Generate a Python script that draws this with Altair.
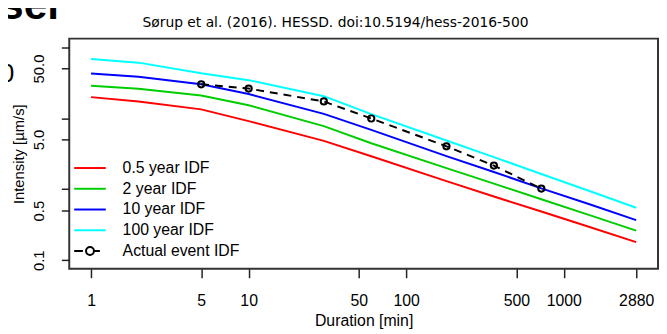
import altair as alt
import pandas as pd

# ---- data ----
durations = [1, 2, 5, 10, 30, 60, 180, 360, 720, 1440, 2880]
idf_05 = [19.8, 17.2, 13.3, 9.09, 4.80, 2.91, 1.30, 0.79, 0.486, 0.297, 0.18]
idf_2 = [28.7, 25.9, 20.9, 15.2, 7.74, 4.44, 1.98, 1.20, 0.722, 0.435, 0.261]
idf_10 = [42.6, 38.3, 30.1, 21.9, 11.5, 6.86, 2.93, 1.75, 1.03, 0.619, 0.367]
idf_100 = [68.1, 60.5, 42.9, 34.3, 20.4, 11.4, 4.85, 2.83, 1.64, 0.953, 0.549]

event_durations = [5, 10, 30, 60, 180, 360, 720]
event_values = [30.0, 26.1, 17.2, 9.9, 4.02, 2.15, 1.02]

series_names = ["0.5 year IDF", "2 year IDF", "10 year IDF", "100 year IDF", "Actual event IDF"]
series_colors = ["#FF0000", "#00CD00", "#0000FF", "#00FFFF", "#000000"]
legend_shapes = [
    "M-2,0H2", "M-2,0H2", "M-2,0H2", "M-2,0H2",
    "M-2,0H-0.9M0.5,0H1.25M-0.5,0A0.5,0.5,0,1,1,0.5,0A0.5,0.5,0,1,1,-0.5,0",
]

x_ticks = [1, 5, 10, 50, 100, 500, 1000, 2880]
y_ticks = [0.1, 0.5, 1, 5, 10, 50, 100]
y_tick_labels = ["0.1", "0.5", "", "5.0", "", "50.0", ""]

title_text = ["Sørup et al. (2016). HESSD. doi:10.5194/hess-2016-500"]
slide_fragments = ["ser", "0"]
x_title = "Duration [min]"
y_title = "Intensity [µm/s]"

# ---- tables ----
idf_rows = []
for name, vals in zip(series_names[:4], [idf_05, idf_2, idf_10, idf_100]):
    for d, v in zip(durations, vals):
        idf_rows.append({"series": name, "duration": d, "intensity": v})
idf_df = pd.DataFrame(idf_rows)
event_df = pd.DataFrame({"series": series_names[4], "duration": event_durations,
                         "intensity": event_values})
legend_df = pd.DataFrame({"series": series_names})

FONT = "Liberation Sans"

x_scale = alt.Scale(type="log", domain=[0.727, 3962], nice=False, zero=False)
y_scale = alt.Scale(type="log", domain=[0.0759, 131.8], nice=False, zero=False)

label_expr = " : ".join(
    f"datum.value == {t} ? '{l}'" for t, l in zip(y_ticks, y_tick_labels)
) + " : ''"

x_enc = alt.X("duration:Q", scale=x_scale, title=x_title,
              axis=alt.Axis(values=x_ticks, format="d", tickSize=9, labelPadding=15,
                            titlePadding=4, domain=False, grid=False,
                            labelFont=FONT, labelFontSize=16, titleFont=FONT,
                            titleFontSize=16, titleFontWeight="normal",
                            labelColor="black", titleColor="black",
                            tickColor="#222", tickWidth=1.5, labelFlush=False,
                            labelOverlap=False))
y_enc = alt.Y("intensity:Q", scale=y_scale, title=y_title,
              axis=alt.Axis(values=y_ticks, labelExpr=label_expr, tickSize=8,
                            labelPadding=15, titlePadding=5, domain=False, grid=False,
                            labelAngle=270, labelAlign="center", labelBaseline="bottom",
                            labelFont=FONT, labelFontSize=15, titleFont=FONT,
                            titleFontSize=15, titleFontWeight="normal",
                            labelColor="black", titleColor="black",
                            tickColor="#222", tickWidth=1.5, labelFlush=False,
                            labelOverlap=False))

legend_def = alt.Legend(title=None, orient="none", legendX=12, legendY=122,
                        symbolSize=256, symbolStrokeWidth=2, labelFont=FONT,
                        labelFontSize=16, labelColor="black", labelOffset=24,
                        rowPadding=4.0, padding=0)
color_enc = alt.Color("series:N", scale=alt.Scale(domain=series_names, range=series_colors),
                      legend=legend_def)

idf_lines = alt.Chart(idf_df).mark_line(strokeWidth=2).encode(
    x=x_enc, y=y_enc, color=color_enc, detail="series:N")

event_line = alt.Chart(event_df).mark_line(strokeWidth=2, strokeDash=[8, 6]).encode(
    x=x_enc, y=y_enc, color=color_enc)

event_points = alt.Chart(event_df).mark_point(shape="circle", filled=False, size=40,
                                              strokeWidth=2, opacity=1).encode(
    x=x_enc, y=y_enc, color=color_enc)

legend_layer = alt.Chart(legend_df).transform_filter("false").mark_point(
    filled=False, strokeWidth=2, opacity=1).encode(
    color=color_enc,
    shape=alt.Shape("series:N", scale=alt.Scale(domain=series_names, range=legend_shapes),
                    legend=legend_def))

title_mark = alt.Chart(pd.DataFrame({"t": title_text})).mark_text(
    font="DejaVu Sans", fontSize=14, align="center", baseline="alphabetic",
    color="black").encode(text="t:N", x=alt.value(269.5), y=alt.value(-12))

ser_text = alt.Chart(pd.DataFrame({"t": slide_fragments[:1]})).mark_text(
    font=FONT, fontSize=43, fontWeight="bold", align="left", baseline="alphabetic",
    color="black").encode(text="t:N", x=alt.value(-70), y=alt.value(-20))

zero_text = alt.Chart(pd.DataFrame({"t": slide_fragments[1:]})).mark_text(
    font=FONT, fontSize=26, align="left", baseline="alphabetic",
    color="black").encode(text="t:N", x=alt.value(-70), y=alt.value(44))

chart = alt.layer(idf_lines, event_line, event_points, legend_layer,
                  title_mark, ser_text, zero_text).properties(
    width=596, height=233,
    autosize=alt.AutoSizeParams(type="none"),
    padding={"left": 62, "top": 29, "right": 1, "bottom": 63},
    background="white",
).configure_view(stroke="#333", strokeWidth=2)

chart.save("out.html", embed_options={"renderer": "svg", "actions": False})
